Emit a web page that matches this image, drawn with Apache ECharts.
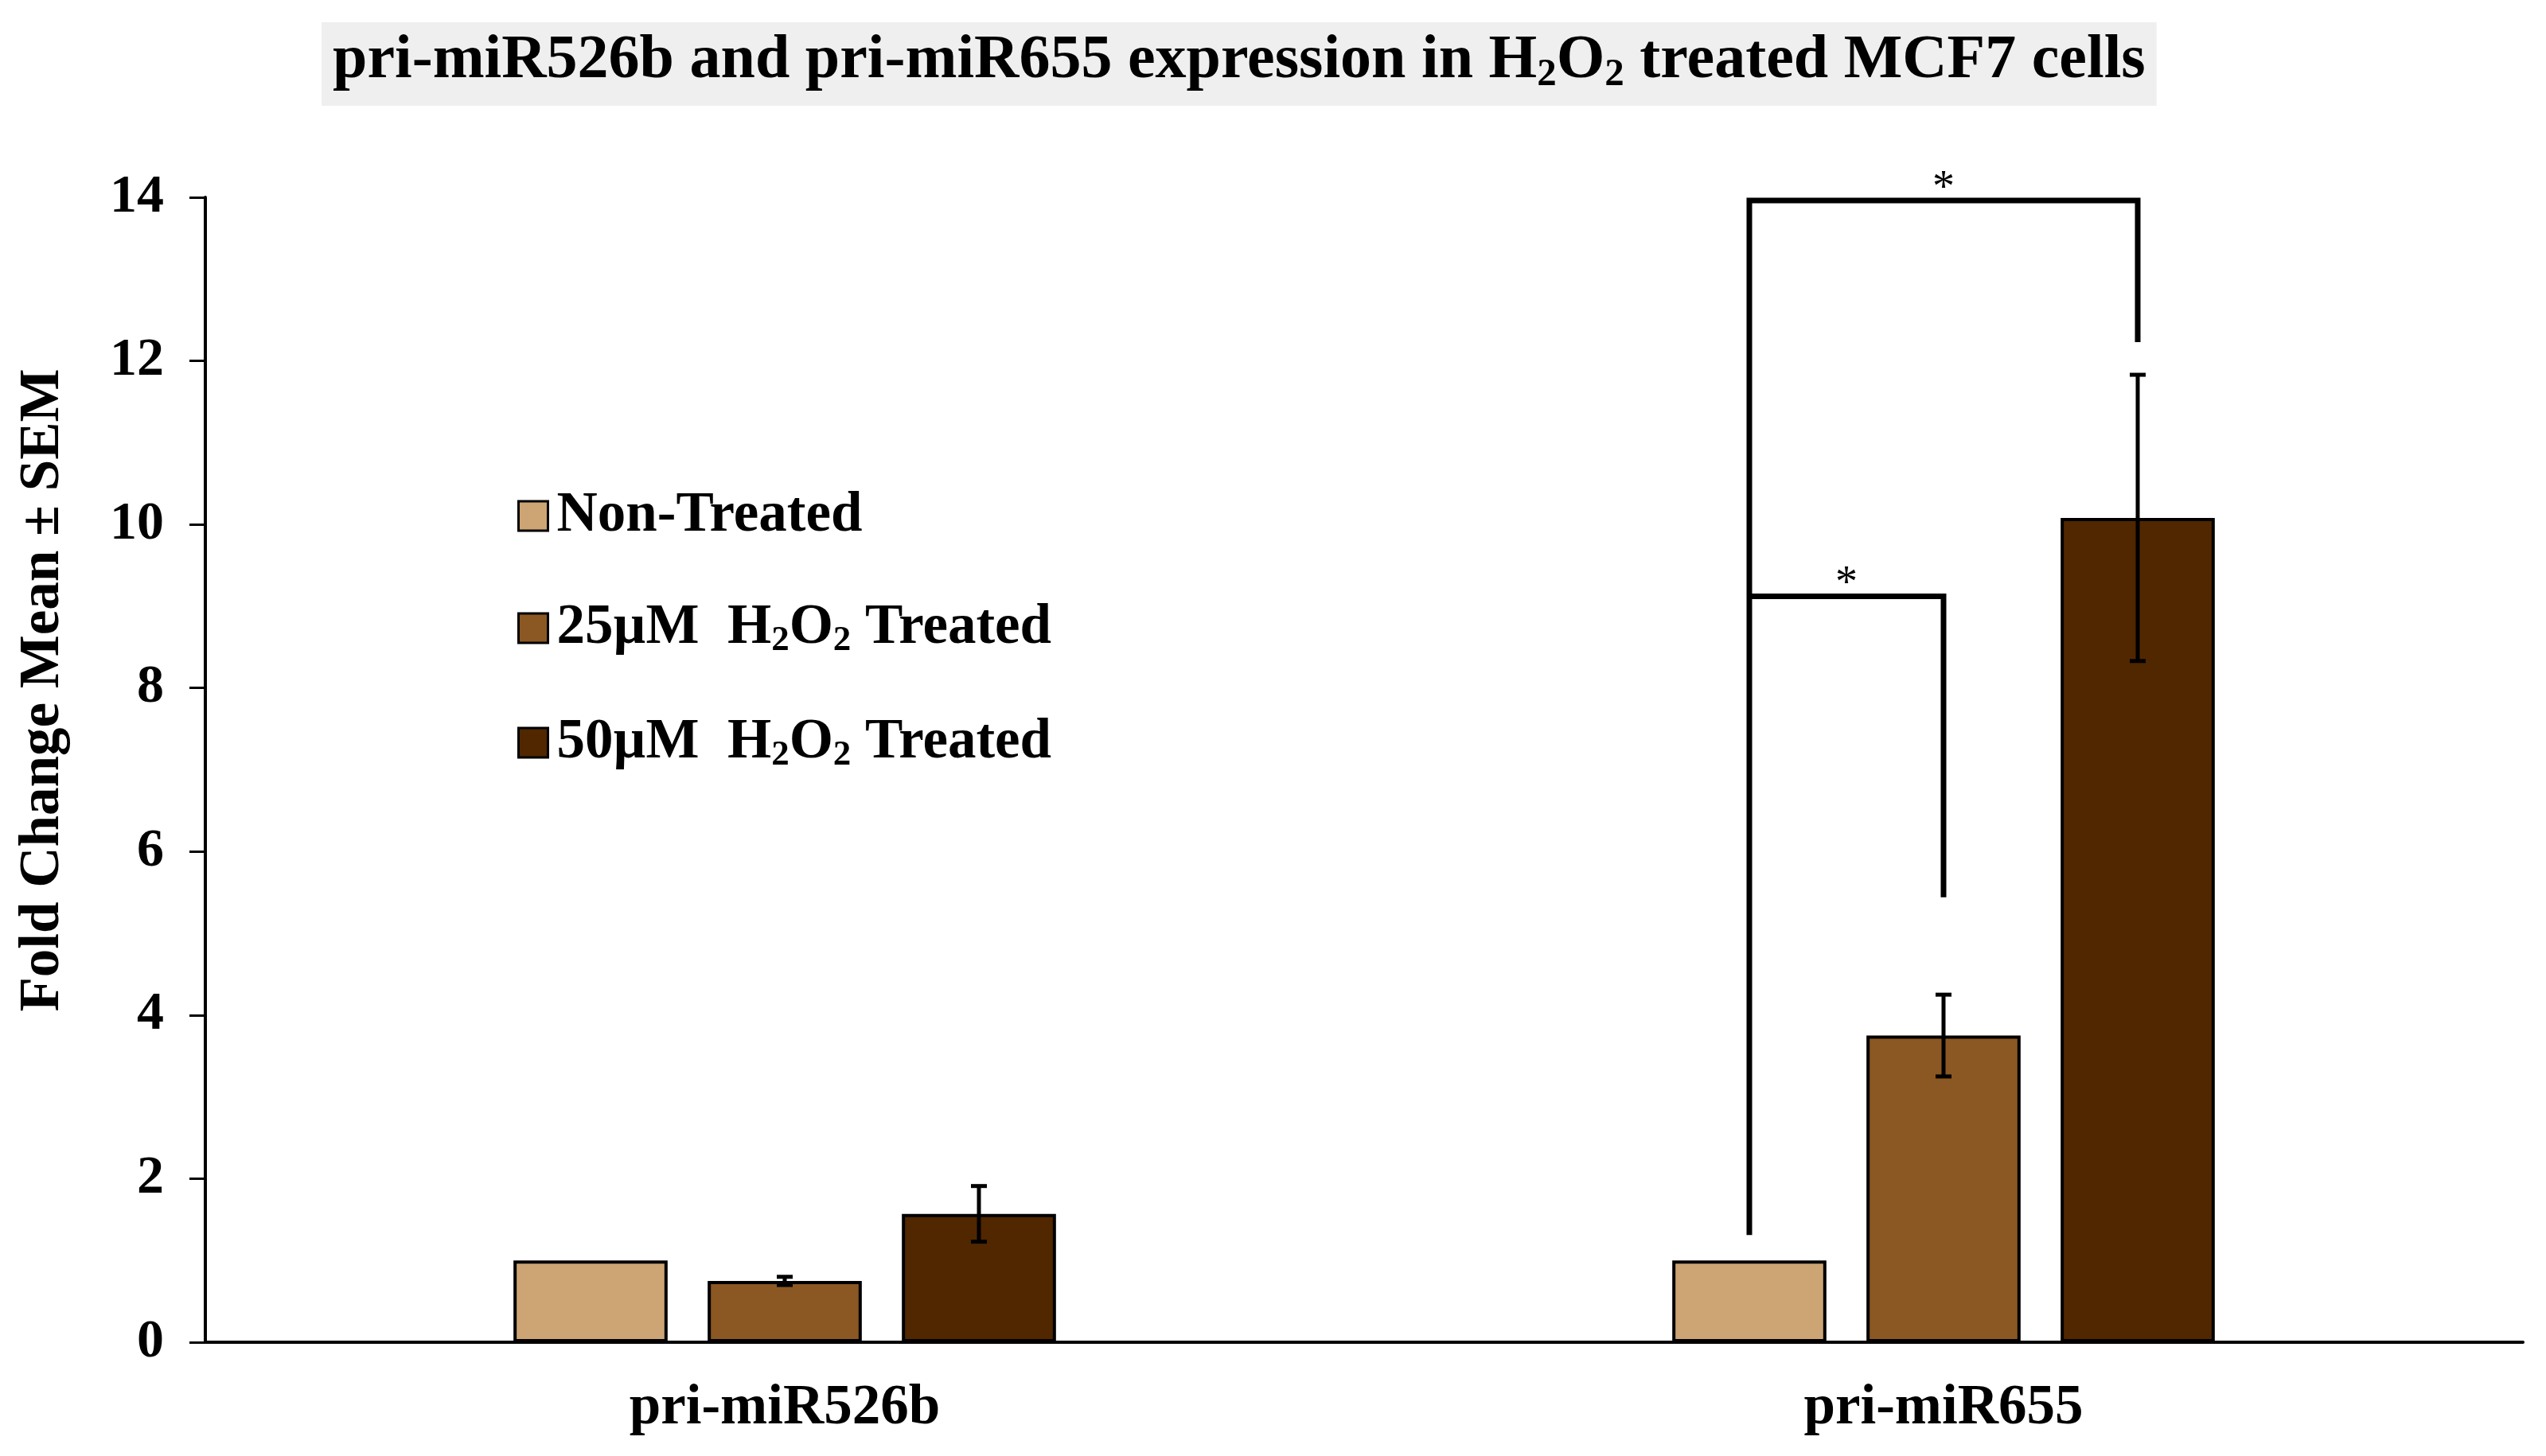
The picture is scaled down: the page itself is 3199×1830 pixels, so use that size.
<!DOCTYPE html>
<html>
<head>
<meta charset="utf-8">
<script src="https://cdn.jsdelivr.net/npm/echarts@6/dist/echarts.min.js"></script>
<style>
html,body{margin:0;padding:0;background:#fff;}
#main{width:3199px;height:1830px;}
</style>
</head>
<body>
<div id="main"></div>
<script>
var categories = ['pri-miR526b', 'pri-miR655'];
var seriesNames = ['Non-Treated', '25µM  H2O2 Treated', '50µM  H2O2 Treated'];
var nonTreated = [1.0, 1.0];
var treated25 = [0.75, 3.75];
var treated50 = [1.57, 10.08];
var sem25 = [0.05, 0.50];
var sem50 = [0.34, 1.75];
var yTicks = [0, 14, 2];
// [category, from bar, to bar, bracket level, from-leg end, to-leg end]
var brackets = [
    [1, 0, 2, 13.96, 1.31, 12.23],
    [1, 0, 1, 9.12, 9.12, 5.44]
];

var FONT = '"Liberation Serif", "Times New Roman", serif';
var colors = ['#CDA474', '#8B5722', '#512700'];
var BAR_PCT = 0.133, GAP_PCT = 0.26;

var chart = echarts.init(document.getElementById('main'));

function richStyle(size) {
    return {
        n: {fontFamily: FONT, fontWeight: 'bold', fontSize: size, lineHeight: size + 6, color: '#000'},
        s: {fontFamily: FONT, fontWeight: 'bold', fontSize: Math.round(size * 0.63),
            lineHeight: Math.round(size * 0.3), verticalAlign: 'bottom', color: '#000'}
    };
}

function subH2O2(text) {
    var parts = text.split('H2O2');
    if (parts.length < 2) return '{n|' + text + '}';
    return '{n|' + parts[0] + 'H}{s|2}{n|O}{s|2}{n|' + parts[1] + '}';
}

var errData = [];
for (var i = 0; i < categories.length; i++) {
    errData.push([i, 1, treated25[i] - sem25[i], treated25[i] + sem25[i]]);
    errData.push([i, 2, treated50[i] - sem50[i], treated50[i] + sem50[i]]);
}

function barX(api, cat, idx) {
    var c = api.coord([cat, 0])[0];
    var band = api.size([1, 0])[0];
    var w = band * BAR_PCT;
    return c + (idx - 1) * w * (1 + GAP_PCT);
}

var series = [nonTreated, treated25, treated50].map(function (d, k) {
    return {
        name: seriesNames[k],
        type: 'bar',
        data: d,
        barWidth: (BAR_PCT * 100) + '%',
        barGap: (GAP_PCT * 100) + '%',
        itemStyle: {color: colors[k], borderColor: '#000', borderWidth: 4},
        z: 2
    };
});

series.push({
    type: 'custom',
    name: 'sem',
    data: errData,
    z: 5,
    renderItem: function (params, api) {
        var x = barX(api, api.value(0), api.value(1));
        var lo = api.coord([api.value(0), api.value(2)])[1];
        var hi = api.coord([api.value(0), api.value(3)])[1];
        var cap = 10;
        var st = {stroke: '#000', lineWidth: 5, fill: null};
        return {type: 'group', children: [
            {type: 'line', shape: {x1: x, y1: lo, x2: x, y2: hi}, style: st},
            {type: 'line', shape: {x1: x - cap, y1: lo, x2: x + cap, y2: lo}, style: st},
            {type: 'line', shape: {x1: x - cap, y1: hi, x2: x + cap, y2: hi}, style: st}
        ]};
    }
});

series.push({
    type: 'custom',
    name: 'sig',
    data: brackets,
    z: 6,
    renderItem: function (params, api) {
        var cat = api.value(0);
        var x1 = barX(api, cat, api.value(1));
        var x2 = barX(api, cat, api.value(2));
        var yt = api.coord([cat, api.value(3)])[1];
        var y1 = api.coord([cat, api.value(4)])[1];
        var y2 = api.coord([cat, api.value(5)])[1];
        return {type: 'group', children: [
            {type: 'polyline', shape: {points: [[x1, y1], [x1, yt], [x2, yt], [x2, y2]]},
                style: {stroke: '#000', lineWidth: 7, fill: null}},
            {type: 'text', x: (x1 + x2) / 2, y: yt - 14, style: {
                text: '*', fontFamily: FONT, fontSize: 56, fill: '#000',
                align: 'center', verticalAlign: 'middle'}}
        ]};
    }
});

var option = {
    backgroundColor: '#fff',
    animation: false,
    title: {
        text: subH2O2('pri-miR526b and pri-miR655 expression in H2O2 treated MCF7 cells'),
        left: 404,
        top: 25,
        padding: [10, 14, 14, 14],
        backgroundColor: '#EFEFEF',
        textStyle: {rich: richStyle(78)}
    },
    legend: {
        orient: 'vertical',
        left: 645,
        top: 608,
        itemWidth: 37,
        itemHeight: 37,
        itemGap: 70,
        icon: 'rect',
        data: seriesNames,
        itemStyle: {borderColor: '#000', borderWidth: 3},
        formatter: subH2O2,
        textStyle: {rich: richStyle(71), padding: [0, 0, 0, 6]}
    },
    grid: {left: 258, right: 29, top: 248, bottom: 143, containLabel: false},
    xAxis: {
        type: 'category',
        data: categories,
        axisLine: {lineStyle: {color: '#000', width: 4}},
        axisTick: {show: false},
        axisLabel: {
            margin: 48, color: '#000', fontFamily: FONT, fontWeight: 'bold', fontSize: 71
        }
    },
    yAxis: {
        type: 'value',
        min: yTicks[0],
        max: yTicks[1],
        interval: yTicks[2],
        name: 'Fold Change Mean ± SEM',
        nameLocation: 'middle',
        nameRotate: 90,
        nameGap: 168,
        nameTextStyle: {
            color: '#000', fontFamily: FONT, fontWeight: 'bold', fontSize: 71,
            padding: [0, 0, 0, 200]
        },
        axisLine: {show: true, lineStyle: {color: '#000', width: 4}},
        axisTick: {show: true, length: 20, lineStyle: {color: '#000', width: 3}},
        splitLine: {show: false},
        axisLabel: {
            margin: 52, color: '#000', fontFamily: FONT, fontWeight: 'bold', fontSize: 68
        }
    },
    series: series
};

chart.setOption(option);
</script>
</body>
</html>
